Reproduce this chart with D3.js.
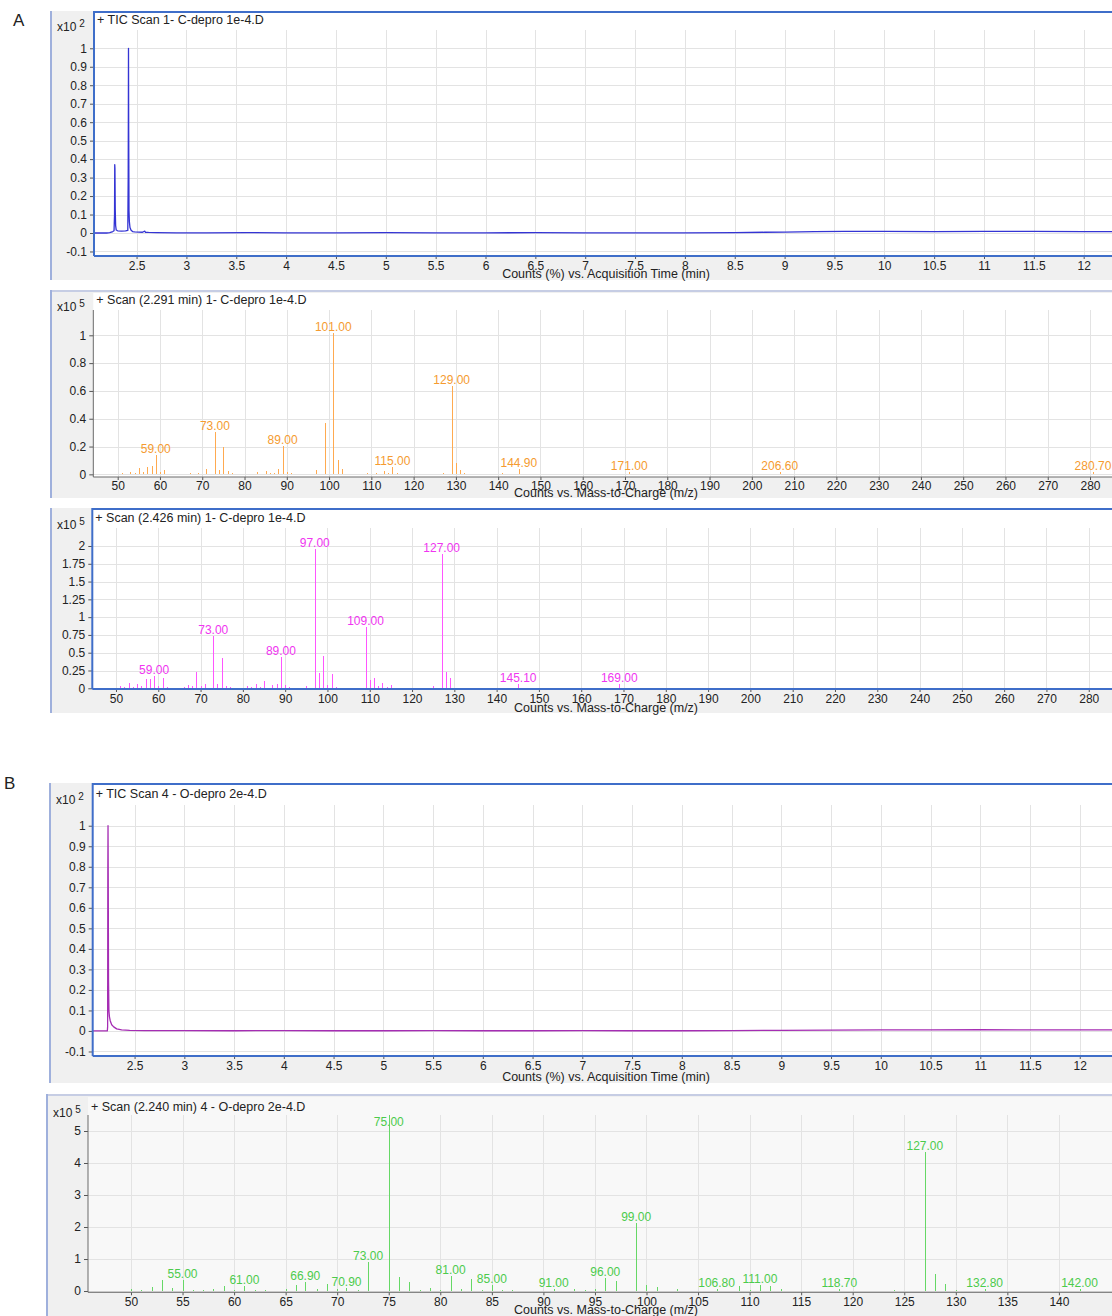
<!DOCTYPE html>
<html>
<head>
<meta charset="utf-8">
<script src="https://cdn.jsdelivr.net/npm/d3@7"></script>
<style>
  html, body { margin: 0; padding: 0; background: #ffffff; }
  svg { display: block; font-family: "Liberation Sans", Arial, sans-serif; }
</style>
</head>
<body>
<svg id="fig" width="1112" height="1316"></svg>
<script>
// ---------- tick values ----------
const timeTicks = [2.5, 3, 3.5, 4, 4.5, 5, 5.5, 6, 6.5, 7, 7.5, 8, 8.5, 9, 9.5, 10, 10.5, 11, 11.5, 12];
const ticCountTicks = [-0.1, 0, 0.1, 0.2, 0.3, 0.4, 0.5, 0.6, 0.7, 0.8, 0.9, 1];
const mzTicksWide = [50, 60, 70, 80, 90, 100, 110, 120, 130, 140, 150, 160, 170, 180, 190, 200, 210, 220, 230, 240, 250, 260, 270, 280];
const mzTicksNarrow = [50, 55, 60, 65, 70, 75, 80, 85, 90, 95, 100, 105, 110, 115, 120, 125, 130, 135, 140];
const countTicksA1 = [0, 0.2, 0.4, 0.6, 0.8, 1];
const countTicksA2 = [0, 0.25, 0.5, 0.75, 1, 1.25, 1.5, 1.75, 2];
const countTicksB = [0, 1, 2, 3, 4, 5];

// ---------- TIC traces: [time (min), counts x10^2 %] ----------
const ticA = [
  [2.073, 0], [2.20, 0], [2.231, 0.002], [2.262, 0.008], [2.274, 0.012], [2.279, 0.10],
  [2.281, 0.37], [2.283, 0.35], [2.286, 0.13], [2.290, 0.04], [2.296, 0.016], [2.31, 0.012],
  [2.35, 0.010], [2.39, 0.011], [2.412, 0.014], [2.416, 0.30], [2.418, 0.70], [2.419, 1.0],
  [2.421, 0.55], [2.424, 0.12], [2.428, 0.06], [2.434, 0.03], [2.445, 0.015], [2.46, 0.008],
  [2.48, 0.006], [2.52, 0.005], [2.56, 0.004], [2.582, 0.010], [2.59, 0.004], [2.62, 0.003],
  [2.7, 0.002], [2.9, 0.001], [3.2, 0.001], [3.6, 0.002], [4.0, 0.001], [4.5, 0.001],
  [5.0, 0.002], [5.5, 0.001], [6.0, 0.001], [6.5, 0.002], [7.0, 0.001], [7.5, 0.001],
  [8.0, 0.001], [8.5, 0.002], [8.8, 0.004], [9.0, 0.005], [9.3, 0.008], [9.6, 0.009],
  [10.0, 0.009], [10.5, 0.008], [11.0, 0.009], [11.5, 0.009], [12.0, 0.008], [12.284, 0.008]
];
const ticB = [
  [2.079, 0], [2.226, 0], [2.229, 0.02], [2.231, 0.77], [2.233, 1.0], [2.235, 0.77],
  [2.238, 0.25], [2.242, 0.10], [2.247, 0.07], [2.255, 0.05], [2.27, 0.03], [2.29, 0.02],
  [2.32, 0.01], [2.37, 0.005], [2.45, 0.003], [2.6, 0.002], [3.0, 0.002], [3.5, 0.001],
  [4.0, 0.002], [4.5, 0.001], [5.0, 0.001], [5.5, 0.002], [6.0, 0.001], [6.5, 0.001],
  [7.0, 0.002], [7.5, 0.001], [8.0, 0.001], [8.5, 0.002], [9.0, 0.003], [9.5, 0.004],
  [10.0, 0.005], [10.5, 0.005], [11.0, 0.006], [11.5, 0.005], [12.0, 0.005], [12.324, 0.005]
];

// ---------- mass spectra: m/z and counts (x10^5) ----------
const mzA1 = [51, 53, 54, 55, 56, 57, 58, 59, 60, 61, 67, 69, 71, 73, 74, 75, 76, 77, 83, 85, 86, 87, 88, 89, 90, 91,
  97, 99, 101, 102, 103, 109, 111, 113, 114, 115, 116, 127, 129, 130, 131, 132, 141, 144.9, 171, 206.6, 280.7];
const countsA1 = [0.007, 0.02, 0.007, 0.048, 0.015, 0.055, 0.062, 0.139, 0.02, 0.031, 0.007, 0.007, 0.04, 0.306, 0.029,
  0.2, 0.024, 0.007, 0.02, 0.022, 0.007, 0.007, 0.038, 0.203, 0.02, 0.012, 0.033, 0.368, 1.02, 0.105, 0.04, 0.007,
  0.012, 0.026, 0.012, 0.053, 0.007, 0.007, 0.636, 0.084, 0.033, 0.007, 0.007, 0.036, 0.016, 0.016, 0.016];
const labelsA1 = [59, 73, 89, 101, 115, 129, 144.9, 171, 206.6, 280.7];

const mzA2 = [51, 52, 53, 54, 55, 56, 57, 58, 59, 60, 61, 62, 63, 66, 67, 68, 69, 70, 71, 73, 74, 75, 76, 77,
  79, 81, 82, 83, 84, 85, 87, 88, 89, 90, 91, 95, 97, 98, 99, 100, 101, 102, 103, 109, 110, 111, 112, 113, 114,
  115, 116, 123, 125, 127, 128, 129, 130, 139, 145.1, 146, 169, 171];
const countsA2 = [0.037, 0.019, 0.08, 0.023, 0.061, 0.037, 0.131, 0.131, 0.178, 0.033, 0.15, 0.019, 0.01,
  0.023, 0.047, 0.028, 0.234, 0.028, 0.061, 0.735, 0.061, 0.42, 0.037, 0.023,
  0.01, 0.033, 0.014, 0.056, 0.014, 0.103, 0.047, 0.061, 0.445, 0.047, 0.023,
  0.037, 1.953, 0.215, 0.459, 0.047, 0.197, 0.023, 0.01, 0.857, 0.112, 0.145, 0.028, 0.07, 0.023,
  0.047, 0.01, 0.01, 0.033, 1.89, 0.225, 0.145, 0.01, 0.01, 0.061, 0.01, 0.06, 0.01];
const labelsA2 = [59, 73, 89, 97, 109, 127, 145.1, 169];

const mzB = [50, 51, 52, 53, 54, 55, 56, 57, 58, 59, 60, 61, 62, 63, 65, 66, 66.9, 68, 69, 70, 70.9, 72, 73,
  75, 76, 77, 78, 79, 80, 81, 82, 83, 84, 85, 86, 87, 91, 93, 94, 95, 96, 97, 99, 100, 101, 103,
  106.8, 109, 110, 111, 112, 113, 118.7, 124, 127, 128, 129, 130, 132.8, 142];
const countsB = [0.05, 0.04, 0.11, 0.33, 0.1, 0.33, 0.03, 0.04, 0.05, 0.17, 0.03, 0.16, 0.03, 0.03,
  0.07, 0.19, 0.27, 0.07, 0.22, 0.07, 0.1, 0.04, 0.9,
  5.5, 0.44, 0.28, 0.04, 0.1, 0.03, 0.46, 0.07, 0.38, 0.03, 0.2, 0.03, 0.04,
  0.06, 0.05, 0.03, 0.05, 0.4, 0.31, 2.12, 0.19, 0.12, 0.07,
  0.06, 0.16, 0.03, 0.2, 0.16, 0.05, 0.06, 0.04, 4.33, 0.52, 0.21, 0.04, 0.06, 0.06];
const labelsB = [55, 61, 66.9, 70.9, 73, 75, 81, 85, 91, 96, 99, 106.8, 111, 118.7, 127, 132.8, 142];

// ---------- drawing ----------
const W = 1112;
const svg = d3.select("#fig");
const numFmt = d => String(Math.round(d * 100) / 100);
const BLUE = "#3f6ec9";

let clipId = 0;

function drawPanel(c) {
  const g = svg.append("g");

  // panel background and frame
  g.append("rect")
    .attr("x", c.outerX).attr("y", c.outerTop)
    .attr("width", W - c.outerX).attr("height", c.outerBottom - c.outerTop)
    .attr("fill", "#f0f0f0");
  if (c.topBorder) {
    g.append("line")
      .attr("x1", c.outerX).attr("x2", W).attr("y1", c.outerTop + 1).attr("y2", c.outerTop + 1)
      .attr("stroke", "#c6cde4").attr("stroke-width", 2);
  }
  g.append("line")
    .attr("x1", c.outerX + 1).attr("x2", c.outerX + 1).attr("y1", c.outerTop).attr("y2", c.outerBottom)
    .attr("stroke", "#9fb0dc").attr("stroke-width", 2);

  // plot area
  g.append("rect")
    .attr("x", c.left).attr("y", c.plotTop)
    .attr("width", W - c.left + 2).attr("height", c.axisY - c.plotTop)
    .attr("fill", c.plotFill);

  const x = d3.scaleLinear().domain(c.xDomain).range([c.left, W]);
  const y = d3.scaleLinear().domain(c.yDomain).range([c.axisY, c.gridTop]);

  // grid
  const grid = g.append("g").attr("stroke", "#e3e3e3").attr("stroke-width", 1).attr("shape-rendering", "crispEdges");
  grid.selectAll("line.v").data(c.xTicks).join("line").attr("class", "v")
    .attr("x1", d => Math.round(x(d)) + 0.5).attr("x2", d => Math.round(x(d)) + 0.5)
    .attr("y1", c.gridTop).attr("y2", c.axisY);
  grid.selectAll("line.h").data(c.yTicks).join("line").attr("class", "h")
    .attr("x1", c.left).attr("x2", W)
    .attr("y1", d => Math.round(y(d)) + 0.5).attr("y2", d => Math.round(y(d)) + 0.5);

  // clip for data marks
  const id = "clip" + (clipId++);
  svg.append("clipPath").attr("id", id).append("rect")
    .attr("x", c.left).attr("y", c.gridTop).attr("width", W - c.left).attr("height", c.axisY - c.gridTop);
  const marks = g.append("g").attr("clip-path", `url(#${id})`);

  if (c.trace) {
    marks.append("path")
      .datum(c.trace)
      .attr("fill", "none")
      .attr("stroke", c.color)
      .attr("stroke-width", 1.3)
      .attr("stroke-linejoin", "round")
      .attr("d", d3.line().x(d => x(d[0])).y(d => y(d[1])));
  }

  if (c.mz) {
    const rows = c.mz.map((m, i) => ({ mz: m, v: c.counts[i] }));
    marks.selectAll("line.bar").data(rows).join("line").attr("class", "bar")
      .attr("x1", d => Math.round(x(d.mz)) + 0.5).attr("x2", d => Math.round(x(d.mz)) + 0.5)
      .attr("y1", y(0)).attr("y2", d => y(d.v))
      .attr("stroke", c.color).attr("stroke-width", 1)
      .attr("shape-rendering", "crispEdges");
    const labelled = rows.filter(r => c.labels.includes(r.mz));
    g.selectAll("text.peak").data(labelled).join("text").attr("class", "peak")
      .attr("x", d => x(d.mz))
      .attr("y", d => Math.max(y(d.v) - 2, c.gridTop + 11))
      .attr("text-anchor", "middle")
      .attr("font-size", 12)
      .attr("fill", c.labelColor)
      .text(d => d3.format(".2f")(d.mz));
  }

  // axes
  const xAxis = g.append("g").attr("transform", `translate(0,${c.axisY})`)
    .call(d3.axisBottom(x).tickValues(c.xTicks).tickSize(3).tickPadding(c.xPad).tickFormat(numFmt));
  const yAxis = g.append("g").attr("transform", `translate(${c.left},0)`)
    .call(d3.axisLeft(y).tickValues(c.yTicks).tickSize(4).tickPadding(3).tickFormat(numFmt));
  [xAxis, yAxis].forEach(a => {
    a.selectAll("text").attr("font-size", 12).attr("fill", "#222").attr("font-family", null);
    a.selectAll(".tick line").attr("stroke", "#555");
    a.select(".domain").remove();
  });

  const axisColor = c.selected ? BLUE : "#6a6a6a";
  const axisWidth = c.selected ? 2 : 1;
  const yTopLine = c.selected ? c.plotTop : c.gridTop;
  g.append("line")
    .attr("x1", c.left).attr("x2", c.left).attr("y1", yTopLine).attr("y2", c.axisY)
    .attr("stroke", axisColor).attr("stroke-width", axisWidth);
  g.append("line")
    .attr("x1", c.left).attr("x2", W).attr("y1", c.axisY).attr("y2", c.axisY)
    .attr("stroke", axisColor).attr("stroke-width", axisWidth);
  if (c.selected) {
    g.append("line")
      .attr("x1", c.left).attr("x2", W).attr("y1", c.plotTop + 1).attr("y2", c.plotTop + 1)
      .attr("stroke", BLUE).attr("stroke-width", 2);
  }

  // titles
  g.append("text")
    .attr("x", c.left + 3).attr("y", c.titleY)
    .attr("font-size", 12.5).attr("fill", "#222")
    .text(c.title);
  const ex = g.append("text")
    .attr("x", c.outerX + 7).attr("y", c.expY)
    .attr("font-size", 12).attr("fill", "#222");
  ex.append("tspan").text("x10");
  ex.append("tspan").attr("dx", 3).attr("dy", -4).attr("font-size", 10).text(c.exponent);

  g.append("text")
    .attr("x", 606).attr("y", c.axisTitleY)
    .attr("text-anchor", "middle")
    .attr("font-size", 12.5).attr("fill", "#222")
    .text(c.axisTitle);
}

// section letters
svg.append("text").attr("x", 13).attr("y", 26).attr("font-size", 17).attr("fill", "#222").text("A");
svg.append("text").attr("x", 4).attr("y", 789).attr("font-size", 17).attr("fill", "#222").text("B");

drawPanel({
  outerX: 50, outerTop: 11, outerBottom: 280, topBorder: false,
  left: 94, plotTop: 11, gridTop: 30, axisY: 256, plotFill: "#ffffff", selected: true,
  xDomain: [2.073, 12.284], yDomain: [-0.1245, 1.099],
  xTicks: timeTicks, yTicks: ticCountTicks, xPad: 2,
  trace: ticA, color: "#3434d4",
  title: "+ TIC Scan 1- C-depro 1e-4.D", titleY: 24, exponent: "2", expY: 31,
  axisTitle: "Counts (%) vs. Acquisition Time (min)", axisTitleY: 278
});

drawPanel({
  outerX: 50, outerTop: 290, outerBottom: 498, topBorder: true,
  left: 93.3, plotTop: 293, gridTop: 310, axisY: 477, plotFill: "#ffffff", selected: false,
  xDomain: [44.23, 285.2], yDomain: [-0.019, 1.182],
  xTicks: mzTicksWide, yTicks: countTicksA1, xPad: 1,
  mz: mzA1, counts: countsA1, labels: labelsA1, color: "#ffaa50", labelColor: "#f59b30",
  title: "+ Scan (2.291 min) 1- C-depro 1e-4.D", titleY: 304, exponent: "5", expY: 311,
  axisTitle: "Counts vs. Mass-to-Charge (m/z)", axisTitleY: 497
});

drawPanel({
  outerX: 50, outerTop: 508, outerBottom: 713, topBorder: false,
  left: 92.3, plotTop: 508, gridTop: 528, axisY: 689, plotFill: "#ffffff", selected: true,
  xDomain: [44.4, 285.5], yDomain: [-0.01, 2.253],
  xTicks: mzTicksWide, yTicks: countTicksA2, xPad: 2,
  mz: mzA2, counts: countsA2, labels: labelsA2, color: "#ff55ff", labelColor: "#f035f0",
  title: "+ Scan (2.426 min) 1- C-depro 1e-4.D", titleY: 522, exponent: "5", expY: 529,
  axisTitle: "Counts vs. Mass-to-Charge (m/z)", axisTitleY: 712
});

drawPanel({
  outerX: 49, outerTop: 783, outerBottom: 1083, topBorder: false,
  left: 92.7, plotTop: 783, gridTop: 805, axisY: 1056, plotFill: "#ffffff", selected: true,
  xDomain: [2.079, 12.324], yDomain: [-0.122, 1.101],
  xTicks: timeTicks, yTicks: ticCountTicks, xPad: 2.5,
  trace: ticB, color: "#a52db3",
  title: "+ TIC Scan 4 - O-depro 2e-4.D", titleY: 798, exponent: "2", expY: 804,
  axisTitle: "Counts (%) vs. Acquisition Time (min)", axisTitleY: 1081
});

drawPanel({
  outerX: 46, outerTop: 1094, outerBottom: 1316, topBorder: true,
  left: 88, plotTop: 1097, gridTop: 1115, axisY: 1292.3, plotFill: "#f8f8f8", selected: false,
  xDomain: [45.83, 145.15], yDomain: [-0.04, 5.5],
  xTicks: mzTicksNarrow, yTicks: countTicksB, xPad: 2,
  mz: mzB, counts: countsB, labels: labelsB, color: "#66d866", labelColor: "#4ccb4c",
  title: "+ Scan (2.240 min) 4 - O-depro 2e-4.D", titleY: 1111, exponent: "5", expY: 1117,
  axisTitle: "Counts vs. Mass-to-Charge (m/z)", axisTitleY: 1314
});
</script>
</body>
</html>
